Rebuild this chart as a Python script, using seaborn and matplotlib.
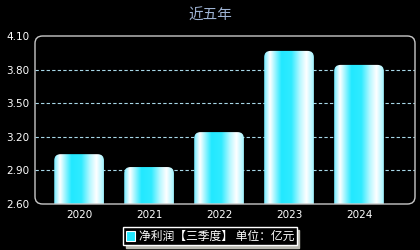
import numpy as np
import pandas as pd
import matplotlib
matplotlib.use("Agg")
import matplotlib.pyplot as plt
import seaborn as sns
from matplotlib.patches import FancyBboxPatch, Patch
from matplotlib.colors import LinearSegmentedColormap

years = ["2020", "2021", "2022", "2023", "2024"]
profit = [3.045, 2.93, 3.242, 3.967, 3.842]
yticks = [2.60, 2.90, 3.20, 3.50, 3.80, 4.10]
title = "近五年"
legend_label = "净利润【三季度】 单位：亿元"

sns.set_style("dark")
plt.rcParams["font.family"] = ["Noto Sans CJK SC", "DejaVu Sans"]

df = pd.DataFrame({"year": years, "profit": profit})

fig = plt.figure(figsize=(4.2, 2.5), dpi=100, facecolor="black")
ax = fig.add_axes([35 / 420, 1 - 204 / 250, 380 / 420, 168 / 250])
ax.set_facecolor("black")

sns.barplot(data=df, x="year", y="profit", width=0.71, ax=ax,
            color="#22e8ff", edgecolor="none")

ax.set_ylim(2.6, 4.1)
ax.set_xlim(-0.63, 4.8)
ax.set_yticks(yticks)
ax.set_yticklabels([f"{v:.2f}" for v in yticks])
ax.set_xlabel("")
ax.set_ylabel("")
ax.tick_params(colors="white", labelsize=7.5, length=0, pad=4)
for lab in ax.get_xticklabels() + ax.get_yticklabels():
    lab.set_family("DejaVu Sans")
ax.grid(False)
for v in yticks[1:-1]:
    ax.axhline(v, color="#a8d8e8", lw=0.8, ls=(0, (3, 2)), zorder=0)

for s in ax.spines.values():
    s.set_visible(False)

# gradient fill for bars
cmap = LinearSegmentedColormap.from_list("bar", [
    (0.0, "#70eaff"), (0.12, "#ffffff"), (0.35, "#22e8ff"),
    (0.55, "#30ebff"), (0.72, "#b8f8ff"), (0.85, "#ffffff"), (1.0, "#a0f4ff")])
grad = np.linspace(0, 1, 256).reshape(1, -1)
for p in list(ax.patches):
    x0, w, h = p.get_x(), p.get_width(), p.get_height()
    p.set_visible(False)
    box = FancyBboxPatch((x0, 0), w, h, boxstyle="round,pad=0,rounding_size=0.09",
                         mutation_aspect=0.63, transform=ax.transData,
                         facecolor="none", edgecolor="none")
    ax.add_patch(box)
    im = ax.imshow(grad, cmap=cmap, aspect="auto", extent=(x0, x0 + w, 0, h),
                   zorder=2)
    im.set_clip_path(box)

ax.set_ylim(2.6, 4.1)
ax.set_xlim(-0.63, 4.8)

# rounded frame
frame = FancyBboxPatch((0, 0), 1, 1, boxstyle="round,pad=0,rounding_size=0.02",
                       mutation_aspect=2.2, transform=ax.transAxes,
                       facecolor="none", edgecolor="#c8c8c8", lw=1.0,
                       clip_on=False, zorder=5)
ax.add_patch(frame)

fig.suptitle(title, color="#9fb4d4", fontsize=10.5, y=0.965)

handle = Patch(facecolor="#22e8ff", edgecolor="white", lw=0.8)
leg = fig.legend([handle], [legend_label], loc="lower center",
                 bbox_to_anchor=(0.5, 0.01), fontsize=8.5, frameon=True,
                 fancybox=False, shadow={"color": "#b8b8b0", "alpha": 1},
                 handlelength=0.8, handleheight=0.9, handletextpad=0.3,
                 borderpad=0.2, borderaxespad=0.2)
leg.get_frame().set_facecolor("black")
leg.get_frame().set_edgecolor("white")
leg.get_frame().set_linewidth(1.0)
for t in leg.get_texts():
    t.set_color("white")

fig.savefig("out.png", dpi=100, facecolor="black")
